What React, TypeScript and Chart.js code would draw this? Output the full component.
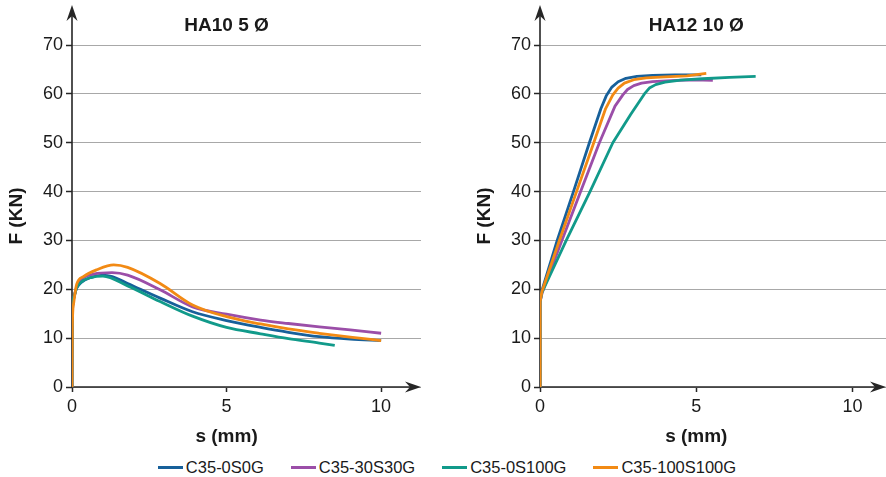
import React, { useEffect, useRef } from 'react';
import { Chart, registerables } from 'chart.js';

Chart.register(...registerables);

// ---------- data ----------
const seriesNames = ['C35-0S0G', 'C35-30S30G', 'C35-0S100G', 'C35-100S100G'];
const seriesColors = ['#17609a', '#9b4ea8', '#119a8a', '#f28a14'];

const yTicks = [0, 10, 20, 30, 40, 50, 60, 70];
const xTicks = [0, 5, 10];

// HA10 5 Ø
const ha10Blue_s = [0, 0.01, 0.05, 0.15, 0.3, 0.6, 1.0, 1.3, 1.8, 2.85, 3.9, 5.0, 6.1, 7.0, 8.0, 9.0, 10.0];
const ha10Blue_F = [0, 14, 18, 20.2, 21.4, 22.4, 22.9, 22.6, 21.2, 18.2, 15.4, 13.6, 12.2, 11.2, 10.3, 9.8, 9.5];
const ha10Purple_s = [0, 0.01, 0.05, 0.15, 0.3, 0.7, 1.3, 1.8, 2.85, 3.9, 5.0, 6.1, 7.0, 8.0, 9.0, 10.0];
const ha10Purple_F = [0, 14, 18, 20.5, 22.0, 23.1, 23.4, 22.9, 19.9, 16.4, 14.9, 13.7, 13.0, 12.3, 11.7, 11.0];
const ha10Teal_s = [0, 0.01, 0.05, 0.15, 0.3, 0.6, 1.0, 1.8, 2.85, 3.9, 5.0, 6.1, 7.0, 8.0, 8.5];
const ha10Teal_F = [0, 15, 18.2, 20.3, 21.5, 22.4, 22.7, 20.7, 17.5, 14.5, 12.2, 10.9, 9.9, 9.0, 8.5];
const ha10Orange_s = [0, 0.01, 0.05, 0.15, 0.37, 0.8, 1.35, 1.8, 2.85, 3.9, 5.0, 6.1, 7.0, 8.0, 9.0, 10.0];
const ha10Orange_F = [0, 12, 17, 21.0, 22.6, 24.0, 25.0, 24.5, 21.2, 16.8, 14.4, 12.9, 11.9, 11.0, 10.2, 9.5];

// HA12 10 Ø
const ha12Blue_s = [0, 0.005, 0.05, 0.55, 1.07, 1.58, 1.95, 2.12, 2.3, 2.5, 2.75, 3.1, 3.6, 4.3, 5.16];
const ha12Blue_F = [0, 17.5, 19.5, 30, 40, 50, 57, 59.6, 61.4, 62.5, 63.2, 63.6, 63.8, 63.9, 63.9];
const ha12Purple_s = [0, 0.005, 0.07, 0.7, 1.3, 1.9, 2.4, 2.65, 2.8, 3.0, 3.25, 3.6, 4.2, 4.9, 5.53];
const ha12Purple_F = [0, 17.5, 19.3, 30, 40, 50, 57.5, 59.8, 60.9, 61.7, 62.2, 62.5, 62.7, 62.9, 62.8];
const ha12Teal_s = [0, 0.005, 0.06, 0.84, 1.6, 2.33, 2.9, 3.34, 3.5, 3.7, 4.0, 4.5, 5.2, 6.06, 6.9];
const ha12Teal_F = [0, 17.5, 19.3, 30, 40, 50, 55.8, 60, 61.2, 61.9, 62.4, 62.8, 63.1, 63.4, 63.6];
const ha12Orange_s = [0, 0.005, 0.06, 0.62, 1.17, 1.72, 2.1, 2.33, 2.5, 2.7, 3.0, 3.4, 4.0, 4.7, 5.32];
const ha12Orange_F = [0, 17.5, 19.5, 30, 40, 50, 57, 59.8, 61.2, 62.2, 62.9, 63.3, 63.5, 63.7, 64.2];

const FONT = '"Liberation Sans", Arial, Helvetica, sans-serif';
const AXIS = '#262626';
const TEXT = '#1a1a1a';
const GRID = '#a8a8a8';

const toPts = (s: number[], f: number[]) => s.map((v, i) => ({ x: v, y: f[i] }));

type PanelProps = {
  title: string;
  series: { s: number[]; f: number[] }[];
  xMax: number;
  yMax: number;
  padLeft: number;
  padRight: number;
  smooth: boolean;
};

function makeDecor(title: string) {
  return {
    id: 'decor',
    beforeDatasetsDraw(chart: any) {
      const { ctx, chartArea: ca, scales } = chart;
      const x0 = scales.x.getPixelForValue(0);
      const y0 = scales.y.getPixelForValue(0);
      ctx.save();
      ctx.strokeStyle = AXIS;
      ctx.fillStyle = AXIS;
      ctx.lineWidth = 1.6;
      ctx.beginPath();
      ctx.moveTo(x0, y0);
      ctx.lineTo(ca.right - 8, y0);
      ctx.moveTo(x0, y0 + 0.8);
      ctx.lineTo(x0, ca.top + 8);
      ctx.stroke();
      // x arrow
      ctx.beginPath();
      ctx.moveTo(ca.right, y0);
      ctx.lineTo(ca.right - 16, y0 - 5.5);
      ctx.lineTo(ca.right - 11, y0);
      ctx.lineTo(ca.right - 16, y0 + 5.5);
      ctx.closePath();
      ctx.fill();
      // y arrow
      ctx.beginPath();
      ctx.moveTo(x0, ca.top);
      ctx.lineTo(x0 - 5.5, ca.top + 16);
      ctx.lineTo(x0, ca.top + 11);
      ctx.lineTo(x0 + 5.5, ca.top + 16);
      ctx.closePath();
      ctx.fill();
      ctx.restore();
    },
    afterDraw(chart: any) {
      const { ctx, chartArea: ca, scales } = chart;
      const xc = scales.x.getPixelForValue(5);
      ctx.save();
      ctx.fillStyle = TEXT;
      ctx.font = `bold 19px ${FONT}`;
      ctx.textAlign = 'center';
      ctx.textBaseline = 'middle';
      ctx.fillText(title, xc, 26);
      ctx.fillText('s (mm)', xc, 437);
      ctx.translate(ca.left - 55, scales.y.getPixelForValue(35));
      ctx.rotate(-Math.PI / 2);
      ctx.fillText('F (KN)', 0, 0);
      ctx.restore();
    },
  };
}

function Panel({ title, series, xMax, yMax, padLeft, padRight, smooth }: PanelProps) {
  const ref = useRef<HTMLCanvasElement | null>(null);
  useEffect(() => {
    if (!ref.current) return;
    const chart = new Chart(ref.current, {
      type: 'line',
      data: {
        datasets: series.map((sr, i) => ({
          label: seriesNames[i],
          data: toPts(sr.s, sr.f),
          borderColor: seriesColors[i],
          backgroundColor: seriesColors[i],
          borderWidth: 2.8,
          borderJoinStyle: 'round' as const,
          borderCapStyle: 'butt' as const,
          pointRadius: 0,
          fill: false,
          tension: 0,
          cubicInterpolationMode: smooth ? ('monotone' as const) : ('default' as const),
          order: 4 - i,
        })),
      },
      options: {
        responsive: false,
        animation: false,
        devicePixelRatio: 1,
        layout: { padding: { left: padLeft, right: padRight, top: 5, bottom: 0 } },
        plugins: { legend: { display: false }, tooltip: { enabled: false }, title: { display: false } },
        scales: {
          x: {
            type: 'linear',
            min: 0,
            max: xMax,
            border: { display: false },
            grid: { drawOnChartArea: false, drawTicks: true, tickLength: 5, tickColor: AXIS, tickWidth: 1.5 },
            ticks: {
              stepSize: 5,
              padding: 4,
              color: TEXT,
              font: { family: FONT, size: 18 },
              maxRotation: 0,
            },
            afterBuildTicks: (scale: any) => {
              scale.ticks = xTicks.map((v) => ({ value: v }));
            },
            afterFit: (scale: any) => {
              scale.height = 63;
              scale.paddingLeft = 0;
              scale.paddingRight = 0;
              scale.paddingTop = 0;
              scale.paddingBottom = 0;
            },
          },
          y: {
            type: 'linear',
            min: 0,
            max: yMax,
            border: { display: false },
            grid: { color: GRID, lineWidth: 1, tickLength: 6, tickColor: AXIS, tickWidth: 1.5 },
            ticks: {
              stepSize: 10,
              padding: 3,
              color: TEXT,
              font: { family: FONT, size: 18 },
            },
            afterBuildTicks: (scale: any) => {
              scale.ticks = yTicks.map((v) => ({ value: v }));
            },
            afterFit: (scale: any) => {
              scale.width = 72;
              scale.paddingLeft = 0;
              scale.paddingRight = 0;
              scale.paddingTop = 0;
              scale.paddingBottom = 0;
            },
          },
        },
      },
      plugins: [makeDecor(title)],
    });
    return () => chart.destroy();
  }, []);
  return <canvas ref={ref} width={443} height={450} style={{ display: 'block', width: 443, height: 450 }} />;
}

export default function App() {
  useEffect(() => {
    document.body.style.margin = '0';
  }, []);
  const left = [
    { s: ha10Blue_s, f: ha10Blue_F },
    { s: ha10Purple_s, f: ha10Purple_F },
    { s: ha10Teal_s, f: ha10Teal_F },
    { s: ha10Orange_s, f: ha10Orange_F },
  ];
  const right = [
    { s: ha12Blue_s, f: ha12Blue_F },
    { s: ha12Purple_s, f: ha12Purple_F },
    { s: ha12Teal_s, f: ha12Teal_F },
    { s: ha12Orange_s, f: ha12Orange_F },
  ];
  return (
    <div style={{ position: 'absolute', left: 0, top: 0, width: 886, height: 477, background: '#fff', overflow: 'hidden' }}>
      <div style={{ position: 'absolute', left: 0, top: 0 }}>
        <Panel title="HA10 5 Ø" series={left} xMax={11.29} yMax={78.2} padLeft={0} padRight={22} smooth={true} />
      </div>
      <div style={{ position: 'absolute', left: 443, top: 0 }}>
        <Panel title="HA12 10 Ø" series={right} xMax={11.07} yMax={78.2} padLeft={25} padRight={0} smooth={false} />
      </div>
      <div
        style={{
          position: 'absolute',
          left: 0,
          top: 455,
          width: 886,
          height: 24,
          display: 'flex',
          justifyContent: 'center',
          alignItems: 'center',
          gap: 27,
          paddingLeft: 8,
          boxSizing: 'border-box',
          fontFamily: FONT,
          fontSize: 16.5,
          color: TEXT,
        }}
      >
        {seriesNames.map((n, i) => (
          <div key={n} style={{ display: 'flex', alignItems: 'center' }}>
            <span style={{ display: 'inline-block', width: 25, height: 3, background: seriesColors[i], marginRight: 3 }} />
            <span>{n}</span>
          </div>
        ))}
      </div>
    </div>
  );
}
